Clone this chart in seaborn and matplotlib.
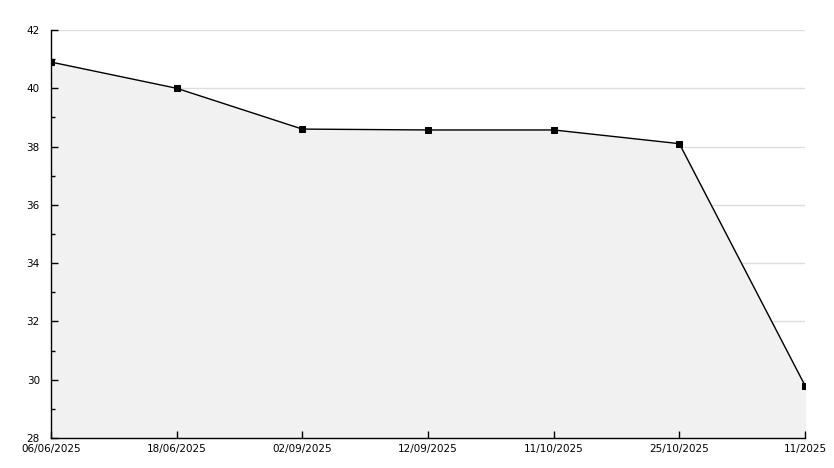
import pandas as pd
import matplotlib
matplotlib.use('Agg')
import matplotlib.pyplot as plt
import seaborn as sns
from matplotlib.ticker import MultipleLocator

# values
dates = ['06/06/2025', '18/06/2025', '02/09/2025', '12/09/2025',
         '11/10/2025', '25/10/2025', '11/2025']
values = [40.9, 40.0, 38.6, 38.57, 38.57, 38.1, 29.8]

df = pd.DataFrame({'pos': range(len(dates)), 'value': values})

sns.set_style('white')
plt.rcParams['font.family'] = ['DejaVu Sans']

fig = plt.figure(figsize=(8.34, 4.68), dpi=100)
ax = fig.add_axes([51 / 834, 30 / 468, 754 / 834, 408 / 468])

# grid drawn by hand so it sits under the fill while ticks stay on top
for y in range(30, 43, 2):
    ax.axhline(y, color='#dddddd', linewidth=1, zorder=0)

ax.fill_between(df['pos'], df['value'], 28, color='#f1f1f1', zorder=1)
sns.lineplot(data=df, x='pos', y='value', ax=ax, color='black', linewidth=1,
             marker='s', markersize=4, markeredgecolor='black', zorder=3)

ax.set_xlim(0, len(dates) - 1)
ax.set_ylim(28, 42)
ax.set_xticks(df['pos'])
ax.set_xticklabels(dates)
ax.yaxis.set_major_locator(MultipleLocator(2))
ax.yaxis.set_minor_locator(MultipleLocator(1))
ax.grid(False)
ax.set_axisbelow(False)

for side in ['top', 'right']:
    ax.spines[side].set_visible(False)
for side in ['left', 'bottom']:
    ax.spines[side].set_color('black')
    ax.spines[side].set_linewidth(1)
    ax.spines[side].set_zorder(4)

ax.tick_params(axis='both', which='major', direction='in', length=5,
               width=1, color='black', labelcolor='black', labelsize=7.5,
               left=True, bottom=True)
ax.tick_params(axis='y', which='minor', direction='in', length=3,
               width=1, color='black', left=True)
ax.tick_params(axis='x', pad=4)
ax.tick_params(axis='y', pad=8)
ax.set_xlabel('')
ax.set_ylabel('')

fig.savefig('out.png', dpi=100)
